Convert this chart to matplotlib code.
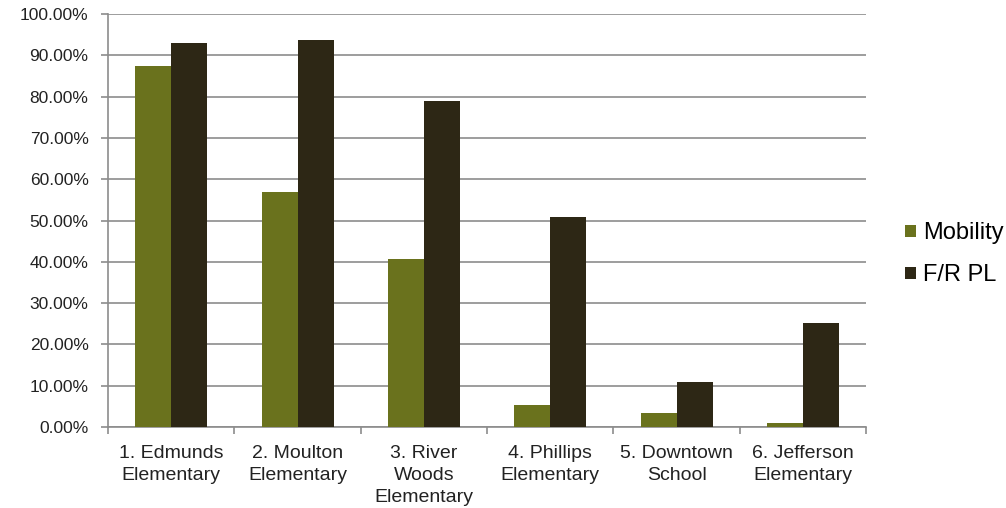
import numpy as np
import matplotlib.pyplot as plt
from matplotlib.ticker import FuncFormatter

plt.rcParams['font.family'] = ['Liberation Sans', 'DejaVu Sans']

schools = ['1. Edmunds\nElementary', '2. Moulton\nElementary', '3. River\nWoods\nElementary',
           '4. Phillips\nElementary', '5. Downtown\nSchool', '6. Jefferson\nElementary']
mobility = [87.4, 56.9, 40.7, 5.3, 3.5, 0.9]
frpl = [93.0, 93.8, 78.9, 50.8, 11.0, 25.2]

fig = plt.figure(figsize=(10.06, 5.08), dpi=100)
ax = fig.add_axes([0.1074, 0.1594, 0.7536, 0.813])

x = np.arange(len(schools))
w = 0.285
ax.bar(x - w/2, mobility, w, color='#6a721d', label='Mobility', zorder=3)
ax.bar(x + w/2, frpl, w, color='#2d2715', label='F/R PL', zorder=3)

ax.set_xlim(-0.5, len(schools) - 0.5)
ax.set_ylim(0, 100)
ax.set_yticks(np.arange(0, 101, 10))
ax.yaxis.set_major_formatter(FuncFormatter(lambda v, p: '{:.2f}%'.format(v)))
ax.yaxis.grid(True, color='#8c8c8c', linewidth=1.2, zorder=0)
ax.tick_params(axis='y', length=5, color='#8c8c8c', width=1.2, labelsize=12.5, labelcolor='#222222', pad=9)

ax.set_xticks(x)
ax.set_xticklabels(schools, fontsize=14, color='#222222', linespacing=1.4)
ax.set_xticks(np.arange(-0.5, len(schools)), minor=True)
ax.tick_params(axis='x', which='major', length=0, pad=13)
ax.tick_params(axis='x', which='minor', length=5, color='#8c8c8c', width=1.2)

for s in ['top', 'right']:
    ax.spines[s].set_visible(False)
for s in ['left', 'bottom']:
    ax.spines[s].set_color('#8c8c8c')
    ax.spines[s].set_linewidth(1.2)

leg = ax.legend(loc='center left', bbox_to_anchor=(1.0515, 0.418), frameon=False, fontsize=17,
                handlelength=0.45, handleheight=0.45, handletextpad=0.3, labelspacing=0.85,
                borderpad=0, borderaxespad=0)

fig.savefig('out.png', dpi=100)
